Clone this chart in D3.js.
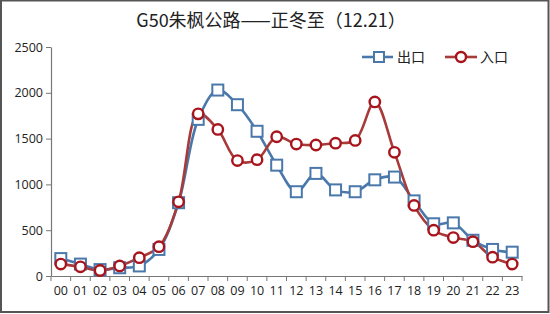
<!DOCTYPE html>
<html>
<head>
<meta charset="utf-8">
<script src="https://cdn.jsdelivr.net/npm/d3@7"></script>
<style>
  html, body { margin: 0; padding: 0; background: #fff; }
  svg { display: block; font-family: "Noto Sans CJK SC", "Noto Sans", sans-serif; }
</style>
</head>
<body>
<svg id="chart"></svg>
<script>
// hours 00..23
const hours = ["00","01","02","03","04","05","06","07","08","09","10","11",
               "12","13","14","15","16","17","18","19","20","21","22","23"];
// 出口 (exit)
const exitValues = [190, 130, 70, 90, 110, 290, 800, 1710, 2030, 1870, 1580, 1210,
                    920, 1120, 940, 920, 1050, 1080, 820, 570, 580, 390, 290, 260];
// 入口 (entry)
const entryValues = [130, 100, 60, 110, 200, 320, 810, 1770, 1600, 1260, 1270, 1520,
                     1440, 1430, 1450, 1480, 1900, 1350, 770, 500, 420, 375, 205, 130];
const yTicks = [0, 500, 1000, 1500, 2000, 2500];

const W = 550, H = 314;
const margin = { top: 47, right: 28, bottom: 38, left: 51 };

const svg = d3.select("#chart").attr("width", W).attr("height", H);

// outer frame
svg.append("rect")
  .attr("x", 1).attr("y", 0.5)
  .attr("width", W - 2.5).attr("height", H - 2.5)
  .attr("fill", "#fff")
  .attr("stroke", "#555")
  .attr("stroke-width", 2);

svg.append("text")
  .attr("x", 271).attr("y", 27)
  .attr("text-anchor", "middle")
  .attr("fill", "#222")
  .style("font-size", "18px")
  .text("G50朱枫公路——正冬至（12.21）");

const g = svg.append("g").attr("transform", `translate(${margin.left},${margin.top})`);
const width = W - margin.left - margin.right;
const height = 276 - margin.top;

const x = d3.scaleBand().domain(hours).range([0, width]);
const y = d3.scaleLinear().domain([0, 2500]).range([height, 0]);

// axes
const xAxis = g.append("g")
  .attr("transform", `translate(0,${height})`)
  .call(d3.axisBottom(x).tickSize(0).tickPadding(10));
xAxis.select(".domain").attr("stroke", "#777").attr("stroke-width", 1.2);
xAxis.selectAll("text").attr("fill", "#222").style("font-size", "12.5px")
  .style("font-family", "'Open Sans', sans-serif");
// tick marks at category boundaries
g.append("g").selectAll("line")
  .data(d3.range(hours.length + 1))
  .join("line")
  .attr("x1", i => i * x.step()).attr("x2", i => i * x.step())
  .attr("y1", height).attr("y2", height + 5)
  .attr("stroke", "#777");

const yAxis = g.append("g")
  .call(d3.axisLeft(y).tickValues(yTicks).tickFormat(d3.format("d"))
    .tickSize(5).tickPadding(3).tickSizeOuter(0));
yAxis.select(".domain").attr("stroke", "#777").attr("stroke-width", 1.2);
yAxis.selectAll(".tick line").attr("stroke", "#777");
yAxis.selectAll("text").attr("fill", "#222").style("font-size", "12.5px")
  .style("font-family", "'Open Sans', sans-serif");

const cx = (d, i) => x(hours[i]) + x.bandwidth() / 2;

const line = d3.line()
  .x(cx)
  .y(d => y(d))
  .curve(d3.curveCatmullRom.alpha(0.5));

const blue = "#4a78ab", red = "#a83a3a", redMark = "#a8141c";

// exit series
g.append("path").datum(exitValues)
  .attr("fill", "none").attr("stroke", blue).attr("stroke-width", 2.6)
  .attr("d", line);

// entry series
g.append("path").datum(entryValues)
  .attr("fill", "none").attr("stroke", red).attr("stroke-width", 2.6)
  .attr("d", line);

g.selectAll(".sq").data(exitValues).join("rect")
  .attr("class", "sq")
  .attr("x", (d, i) => cx(d, i) - 5.5)
  .attr("y", d => y(d) - 5.5)
  .attr("width", 11).attr("height", 11)
  .attr("fill", "#fff").attr("stroke", blue).attr("stroke-width", 2);

g.selectAll(".dot").data(entryValues).join("circle")
  .attr("class", "dot")
  .attr("cx", cx)
  .attr("cy", d => y(d))
  .attr("r", 5.2)
  .attr("fill", "#fff").attr("stroke", redMark).attr("stroke-width", 2.4);

// legend
const legend = svg.append("g");
legend.append("line").attr("x1", 362).attr("x2", 393).attr("y1", 57).attr("y2", 57)
  .attr("stroke", blue).attr("stroke-width", 2.6);
legend.append("rect").attr("x", 374).attr("y", 52).attr("width", 10).attr("height", 10)
  .attr("fill", "#fff").attr("stroke", blue).attr("stroke-width", 2);
legend.append("text").attr("x", 397).attr("y", 62).attr("fill", "#222")
  .style("font-size", "14px").text("出口");

legend.append("line").attr("x1", 445).attr("x2", 477).attr("y1", 57).attr("y2", 57)
  .attr("stroke", red).attr("stroke-width", 2.6);
legend.append("circle").attr("cx", 461).attr("cy", 57).attr("r", 5)
  .attr("fill", "#fff").attr("stroke", redMark).attr("stroke-width", 2.4);
legend.append("text").attr("x", 480).attr("y", 62).attr("fill", "#222")
  .style("font-size", "14px").text("入口");
</script>
</body>
</html>
